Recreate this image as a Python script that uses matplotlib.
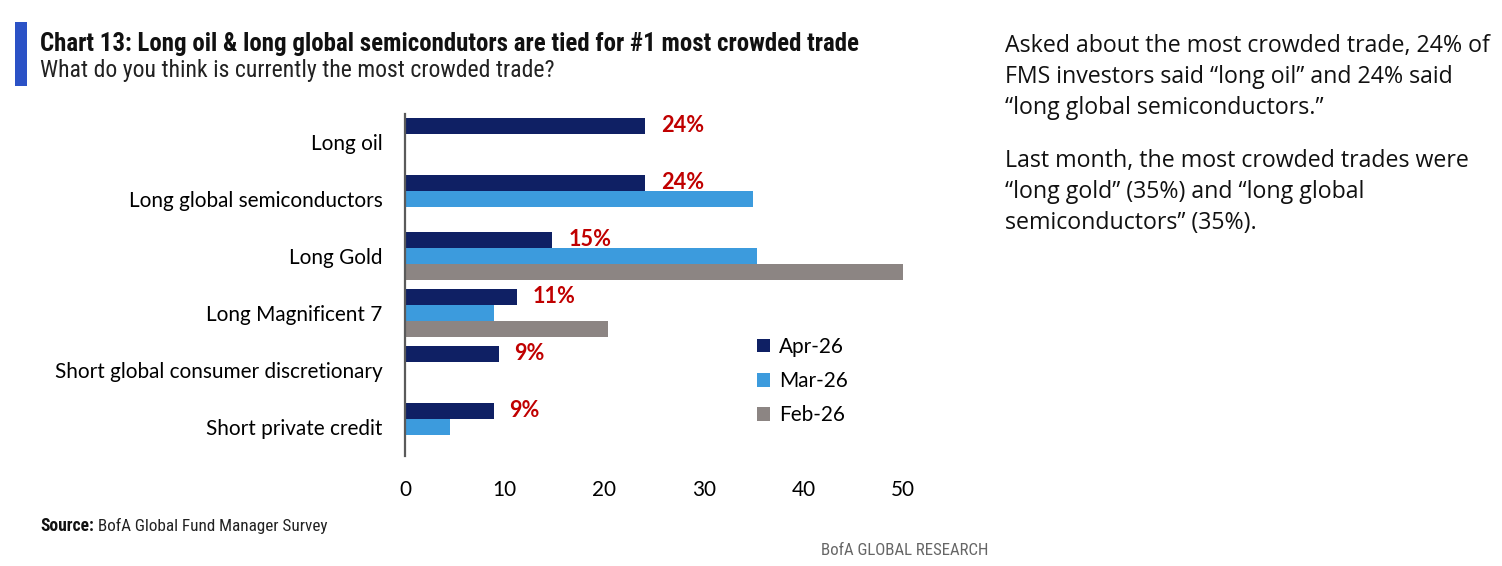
import matplotlib
matplotlib.use("Agg")
import matplotlib.pyplot as plt
from matplotlib.patches import Rectangle
from matplotlib import font_manager as fm

# ---------------- data ----------------
categories = ["Long oil", "Long global semiconductors", "Long Gold",
              "Long Magnificent 7", "Short global consumer discretionary",
              "Short private credit"]
apr26 = [24.1, 24.1, 14.8, 11.2, 9.4, 8.9]
mar26 = [None, 34.9, 35.3, 8.9, None, 4.5]
feb26 = [None, None, 50.0, 20.4, None, None]
value_labels = ["24%", "24%", "15%", "11%", "9%", "9%"]
series_names = ["Apr-26", "Mar-26", "Feb-26"]
x_ticks = [0, 10, 20, 30, 40, 50]

title = "Chart 13: Long oil & long global semicondutors are tied for #1 most crowded trade"
subtitle = "What do you think is currently the most crowded trade?"
side_lines_1 = ["Asked about the most crowded trade, 24% of",
                "FMS investors said \u201clong oil\u201d and 24% said",
                "\u201clong global semiconductors.\u201d"]
side_lines_2 = ["Last month, the most crowded trades were",
                "\u201clong gold\u201d (35%) and \u201clong global",
                "semiconductors\u201d (35%)."]

# ---------------- fonts ----------------
fonts = fm.fontManager.ttflist
names = {f.name for f in fonts}
narrow_family = "DejaVu Sans"
narrow_stretch = "normal"
for cand in ["Liberation Sans Narrow", "Roboto Condensed", "Open Sans Condensed",
             "DejaVu Sans Condensed"]:
    if cand in names:
        narrow_family = cand
        break
else:
    if any(f.name == "DejaVu Sans" and f.stretch == "condensed" for f in fonts):
        narrow_stretch = "condensed"
    elif "Roboto" in names:
        narrow_family = "Roboto"

# ---------------- layout ----------------
W, H = 1502, 566
fig = plt.figure(figsize=(W / 100, H / 100), dpi=100)
fig.patch.set_facecolor("white")


def fx(px):
    return px / W


def fy(py):
    return 1 - py / H


renderer = fig.canvas.get_renderer()


def fit_width(t, target):
    w = t.get_window_extent(renderer).width
    t.set_fontsize(t.get_fontsize() * target / w)
    return t.get_fontsize()


BODY = ["Lato", "DejaVu Sans"]
NARROW = [narrow_family, "DejaVu Sans"]
SIDE = ["Open Sans", "DejaVu Sans"]

tmp = fig.text(0, 0, "Long global semiconductors", fontsize=16, family=BODY)
label_fs = fit_width(tmp, 255)
tmp.remove()

ax = fig.add_axes([fx(405), fy(455.5), fx(903) - fx(405), (455.5 - 113.5) / H])

bar_h = 16 / 57
offsets = [-bar_h, 0, bar_h]
colors = ["#0F2064", "#3C9BDD", "#8C8583"]
for series, off, c, name in zip([apr26, mar26, feb26], offsets, colors, series_names):
    ys = [i + off for i, v in enumerate(series) if v is not None]
    ws = [v for v in series if v is not None]
    ax.barh(ys, ws, height=bar_h, color=c, label=name, linewidth=0)

for i, (v, lbl) in enumerate(zip(apr26, value_labels)):
    ax.annotate(lbl, xy=(v, i - bar_h), xytext=(11.5, 0.5), textcoords="offset points",
                va="center", ha="left", color="#C00000", fontweight="bold",
                fontsize=label_fs * 1.04, family=BODY)

ax.set_xlim(0, 50)
ax.set_ylim(5.5, -0.5)
ax.set_xticks(x_ticks)
ax.set_xticklabels([str(t) for t in x_ticks], family=BODY, fontsize=label_fs)
ax.set_yticks(range(len(categories)))
ax.set_yticklabels(categories, family=BODY, fontsize=label_fs)
ax.tick_params(axis="both", length=0, colors="black")
ax.tick_params(axis="y", pad=16)
ax.tick_params(axis="x", pad=18)
for s in ["top", "right", "bottom"]:
    ax.spines[s].set_visible(False)
ax.spines["left"].set_color("#5a5a5a")
ax.spines["left"].set_linewidth(1.6)

leg = ax.legend(loc="upper left", bbox_to_anchor=(fx(757), fy(337)),
                bbox_transform=fig.transFigure, frameon=False,
                prop={"family": BODY, "size": label_fs},
                handlelength=0.62, handleheight=0.62, handletextpad=0.45,
                labelspacing=0.68, borderpad=0, borderaxespad=0)

# ---------------- header ----------------
fig.patches.append(Rectangle((fx(15), fy(86)), fx(27) - fx(15), (86 - 22) / H,
                             transform=fig.transFigure, color="#2B52C6", lw=0))
t = fig.text(fx(40), fy(51), title, fontsize=13, fontweight="bold", family=NARROW,
             fontstretch=narrow_stretch, va="baseline", ha="left", color="#111111")
fit_width(t, 816)
t = fig.text(fx(40), fy(77), subtitle, fontsize=13, family=NARROW,
             fontstretch=narrow_stretch, va="baseline", ha="left", color="#222222")
fit_width(t, 513)

# ---------------- footer ----------------
t1 = fig.text(fx(40), fy(531), "Source:", fontsize=11, fontweight="bold", family=NARROW,
              fontstretch=narrow_stretch, va="baseline", ha="left", color="#111111")
fit_width(t1, 54)
t2 = fig.text(fx(98), fy(531), "BofA Global Fund Manager Survey", fontsize=t1.get_fontsize(),
              family=NARROW, fontstretch=narrow_stretch, va="baseline", ha="left",
              color="#222222")
fit_width(t2, 230)
t3 = fig.text(fx(988), fy(555), "BofA GLOBAL RESEARCH", fontsize=t1.get_fontsize(),
              family=NARROW, fontstretch=narrow_stretch, va="baseline", ha="right",
              color="#666666")
fit_width(t3, 168)

# ---------------- side commentary ----------------
t = fig.text(fx(1005), fy(52), side_lines_1[0], fontsize=16, family=SIDE,
             va="baseline", ha="left", color="#111111")
side_fs = fit_width(t, 485)
for k, line in enumerate(side_lines_1[1:], start=1):
    fig.text(fx(1005), fy(52 + 31 * k), line, fontsize=side_fs, family=SIDE,
             va="baseline", ha="left", color="#111111")
for k, line in enumerate(side_lines_2):
    fig.text(fx(1005), fy(167 + 31 * k), line, fontsize=side_fs, family=SIDE,
             va="baseline", ha="left", color="#111111")

fig.savefig("out.png", dpi=100, facecolor="white")
